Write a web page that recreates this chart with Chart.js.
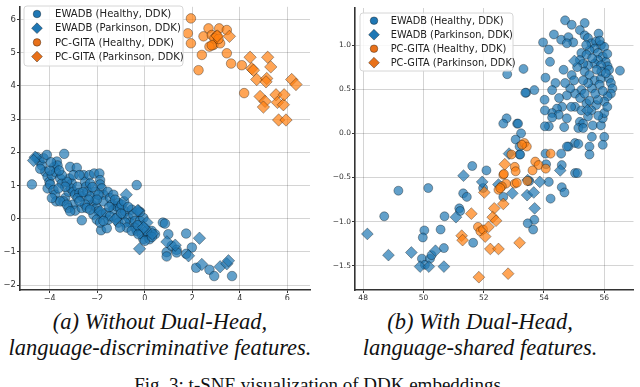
<!DOCTYPE html>
<html>
<head>
<meta charset="utf-8">
<script src="https://cdn.jsdelivr.net/npm/chart.js@4.4.1/dist/chart.umd.min.js"></script>
<style>
  html, body { margin: 0; padding: 0; background: #fff; }
  body { width: 640px; height: 387px; position: relative; overflow: hidden; }
  .plot { position: absolute; top: 0; width: 320px; height: 300px; }
  .cap {
    position: absolute; top: 309px; width: 320px; text-align: center;
    font-family: 'Liberation Serif', serif; font-style: italic;
    font-size: 22.5px; line-height: 26px; color: #111; white-space: nowrap;
  }
  .fig {
    position: absolute; top: 374px; left: 0; width: 640px; text-align: center;
    font-family: 'Liberation Serif', serif; font-size: 19px; line-height: 22px; color: #111;
  }
</style>
</head>
<body>
<div class="plot" style="left:0"><canvas id="left" width="320" height="300"></canvas></div>
<div class="plot" style="left:320px"><canvas id="right" width="320" height="300"></canvas></div>
<div class="cap" style="left:0">(a) Without Dual-Head,<br>language-discriminative features.</div>
<div class="cap" style="left:320px">(b) With Dual-Head,<br>language-shared features.</div>
<div class="fig">Fig. 3: t-SNE visualization of DDK embeddings.</div>

<script>
const seriesLabels = [
	'EWADB (Healthy, DDK)',
	'EWADB (Parkinson, DDK)',
	'PC-GITA (Healthy, DDK)',
	'PC-GITA (Parkinson, DDK)'
];

// (a) without dual-head
const leftEwadbHealthy = [
	[-4.75,1.03],[-4.54,1.85],[-4.43,1.72],[-4.33,1.60],[-4.26,1.82],[-4.12,1.92],[-4.19,1.41],[-4.09,1.26],
	[-4.01,1.11],[-4.09,0.91],[-3.98,1.03],[-3.84,0.86],[-3.77,0.72],[-3.73,0.52],[-3.91,1.31],[-3.81,1.56],
	[-3.70,1.72],[-3.67,1.60],[-3.73,1.39],[-3.56,1.21],[-3.49,1.06],[-3.39,1.95],[-3.35,0.62],[-3.42,0.52],
	[-3.21,0.81],[-3.14,1.56],[-3.17,1.21],[-3.07,1.06],[-3.11,0.91],[-3.00,0.81],[-2.93,0.72],[-2.86,1.53],
	[-2.83,0.96],[-2.75,0.77],[-2.65,0.67],[-2.83,0.62],[-3.03,0.42],[-3.21,0.32],[-2.93,0.24],[-2.65,0.32],
	[-2.65,-0.05],[-2.58,1.31],[-2.51,1.11],[-2.47,0.96],[-2.41,0.81],[-2.33,1.31],[-2.30,1.06],[-2.23,0.42],
	[-2.13,1.36],[-2.09,0.54],[-2.02,0.32],[-1.95,0.22],[-1.91,1.36],[-1.88,1.16],[-1.88,1.03],[-1.81,0.91],
	[-1.74,0.72],[-1.74,0.52],[-1.81,0.12],[-1.84,-0.35],[-1.60,-0.29],[-1.53,-0.03],[-1.56,0.81],[-1.46,0.62],
	[-1.39,0.42],[-1.32,0.27],[-1.18,0.37],[-1.11,0.47],[-1.04,0.32],[-0.93,0.12],[-0.83,0.22],[-0.69,0.02],
	[-0.62,-0.12],[-0.55,0.27],[-0.48,0.12],[-0.41,-0.07],[-0.34,1.01],[-0.41,-0.27],[-0.34,-0.37],[-0.20,-0.07],
	[-0.13,-0.47],[-0.06,-0.62],[0.15,-0.47],[0.29,-0.37],[0.43,-0.47],[0.76,-0.12],[0.85,-0.15],[0.99,-0.47],
	[0.92,-1.01],[0.92,-1.14],[1.13,-0.82],[1.34,-0.94],[1.34,-1.02],[1.74,-0.45],[1.98,-0.87],[1.74,-1.06],
	[2.16,-1.48],[2.72,-1.54],[2.92,-1.73],[3.67,-1.73],
	[-1.32,0.72],[-1.25,0.57],[-0.97,0.42],[-0.87,0.52],[-1.63,0.17],[-1.46,0.07],[-1.18,0.02],[-1.11,-0.12],
	[-0.83,-0.12],[-0.76,-0.27],[-0.55,-0.37],[-1.04,-0.27],[-0.27,-0.47],[-0.06,0.02],[-0.03,-0.27],[0.08,-0.37],
	[0.20,-0.62],[0.00,-0.67],[-2.16,0.12],[-2.02,-0.03],[-1.88,-0.12],[-1.74,-0.07],[-2.09,0.81],[-2.30,0.67],
	[-1.95,0.72],[-2.02,0.57],[-2.37,0.57],[-2.51,0.42],[-2.75,0.52],[-2.44,0.32],[-2.30,0.27],[-3.28,1.11],
	[-3.35,0.96],[-3.00,1.31],[-2.75,1.31],[-3.49,1.31],[-3.63,0.91],[-3.56,0.52],[-3.91,0.62],[-3.28,0.42],
	[-3.14,0.22],[-1.00,0.15],[-0.70,0.35],[-1.50,0.35],[-0.20,0.20],[-0.30,-0.20],[0.30,-0.55],[-2.20,0.95],
	[-2.60,0.80],[-3.60,1.45],[-4.40,1.50],[-4.00,1.45],[-3.95,1.70]
];
const leftEwadbParkinson = [
	[-4.61,1.85],[-4.68,1.75],[-0.78,0.72],[-0.26,0.24],[-0.22,-0.91],[2.30,-0.59],[1.84,-1.12],[2.40,-1.38],
	[3.17,-1.45],[3.45,-1.36],[3.52,-1.27],[1.28,-0.80],[0.93,-0.70],[0.32,-0.46],[0.09,-0.12],[-0.05,-0.27],
	[-1.24,-0.02],[-1.87,0.22],[-0.31,0.24]
];
const leftGitaHealthy = [
	[1.94,6.03],[1.81,5.58],[1.94,5.28],[2.47,5.49],[2.68,5.73],[2.82,5.53],[2.89,5.23],[2.72,5.18],
	[3.13,5.73],[3.17,5.28],[3.45,5.68],[2.40,4.93],[2.26,4.47],[3.45,4.98],[3.63,4.67],[4.08,4.62],
	[4.18,3.78],[3.03,5.51],[2.93,5.43],[3.10,5.41],[2.82,5.22]
];
const leftGitaParkinson = [
	[3.56,5.49],[3.05,5.50],[4.43,4.86],[4.50,4.52],[4.57,4.47],[4.71,4.19],[5.17,4.86],[5.30,4.57],
	[5.13,4.22],[5.10,4.12],[4.85,3.68],[5.06,3.53],[4.99,3.36],[5.52,3.73],[5.58,3.50],[5.83,3.43],
	[5.86,3.73],[6.18,4.19],[6.36,4.04],[5.63,2.97],[5.94,2.97]
];
const leftTicksX = [-4, -2, 0, 2, 4, 6];
const leftTicksY = [-2, -1, 0, 1, 2, 3, 4, 5, 6];

// (b) with dual-head
const rightEwadbHealthy = [
	[54.70,1.28],[54.92,1.23],[55.35,1.25],[55.19,1.17],[55.81,1.13],[54.33,1.12],[54.57,1.06],[54.81,1.09],
	[54.97,1.03],[54.76,1.02],[55.35,1.11],[55.46,1.08],[55.57,1.02],[55.73,1.04],[55.89,1.00],[56.00,0.98],
	[55.68,0.96],[55.51,0.94],[55.24,0.91],[55.41,0.89],[55.79,0.91],[55.95,0.87],[56.05,0.81],[56.11,0.76],
	[56.16,0.72],[56.52,0.71],[55.79,0.83],[55.68,0.79],[55.89,0.77],[55.46,0.77],[55.30,0.79],[55.19,0.83],
	[55.35,0.70],[55.51,0.66],[55.68,0.60],[55.89,0.62],[56.16,0.62],[56.22,0.57],[56.27,0.51],[56.22,0.45],
	[56.11,0.42],[56.00,0.36],[55.84,0.55],[55.59,0.51],[55.46,0.57],[55.30,0.60],[54.92,0.66],[55.24,0.49],
	[55.03,0.45],[54.87,0.51],[54.70,0.57],[54.76,0.43],[54.38,0.57],[54.27,0.49],[54.05,0.63],[54.16,0.95],
	[53.97,1.03],[54.20,0.81],[54.02,0.38],[54.60,0.30],[54.43,0.28],[54.27,0.23],[54.49,0.21],[54.27,0.18],
	[54.76,0.17],[55.03,0.30],[55.24,0.26],[55.41,0.34],[55.51,0.37],[55.73,0.32],[55.79,0.38],[55.57,0.26],
	[55.46,0.19],[55.19,0.13],[55.30,0.11],[55.14,0.06],[55.30,0.06],[55.62,0.09],[55.89,0.09],[55.95,0.17],
	[56.00,0.23],[56.00,-0.04],[55.95,-0.13],[55.59,-0.04],[55.51,-0.15],[55.51,-0.24],[55.03,-0.11],[54.81,-0.15],
	[54.16,0.08],[54.67,0.07],[53.68,0.49],[53.41,0.46],[53.32,0.73],[52.78,0.67],[52.76,0.17],[52.65,0.11],
	[53.11,0.11],[53.24,0.00],[53.06,-0.07],[53.19,-0.15],[53.19,-0.24],[54.03,0.26],
	[49.17,-0.65],[48.70,-0.94],[50.16,-0.62],[50.03,-1.10],[49.98,-1.18],[49.95,-1.42],[50.05,-1.49],[50.22,-1.42],
	[50.27,-1.38],[50.57,-1.09],[50.70,-0.94],[50.68,-1.30],[51.32,-0.68],[51.44,-0.72],[51.19,-0.85],[51.22,-0.88],
	[51.65,-1.24],[51.62,-0.37],[52.09,-0.42],[51.98,-0.62],[52.65,-0.72],[53.21,-0.24],[53.14,0.11],[53.38,0.46],
	[54.03,0.08],[54.05,-0.23],[54.07,-0.35],[54.16,-0.55],[54.22,-0.74],[54.59,-0.36],[54.59,-0.61],[54.68,-0.67],
	[55.03,-0.45],[55.11,-0.45],[53.68,-0.98],[53.46,-1.02],[53.64,-1.09],[53.51,-0.54],[54.57,-0.23],[54.76,-0.15],
	[55.14,-0.12],[55.90,0.70],[56.05,0.68],[55.75,0.72],[55.60,0.85],[56.10,0.90],[55.85,1.05],[55.40,1.00],
	[55.70,0.45],[55.95,0.48],[55.20,0.40],[55.00,0.60],[54.50,0.40],[55.10,0.75],[55.80,0.20],[56.10,0.30],
	[54.90,0.30],[55.35,0.45],[54.65,0.72]
];
const rightEwadbParkinson = [
	[48.14,-1.14],[48.84,-1.38],[49.60,-1.35],[49.89,-1.51],[50.18,-1.51],[50.40,-1.33],[50.68,-1.51],[51.08,-0.95],
	[51.33,-0.48],[51.95,-0.55],[52.49,-0.58],[52.95,-0.68],[53.44,-0.70],[53.66,-0.67],[53.69,-0.85],[53.86,-0.55],
	[53.46,-0.53],[54.54,-0.42],[52.84,-0.23],[55.01,0.82],[55.44,0.26]
];
const rightGitaHealthy = [
	[53.35,-0.11],[53.43,-0.15],[53.27,-0.13],[52.92,-0.24],[54.22,-0.23],[53.03,-0.38],[53.06,-0.43],[53.71,-0.32],
	[53.82,-0.36],[54.06,-0.40],[53.62,-0.42],[52.65,-0.47],[53.03,-0.57],[53.10,-0.56],[53.45,-0.54],[52.74,-0.57],
	[52.60,-0.60],[52.49,-0.64],[52.55,-0.62],[51.81,-1.06],[51.89,-1.11],[51.98,-1.09],[52.67,-0.46]
];
const rightGitaParkinson = [
	[52.70,-0.35],[51.59,-0.91],[52.35,-0.85],[52.30,-0.95],[52.41,-0.99],[52.65,-0.80],[52.02,-0.67],[52.16,-1.06],
	[52.05,-1.17],[52.22,-1.31],[52.49,-1.31],[53.19,-1.24],[51.84,-1.63],[52.81,-1.59],[51.27,-1.16],[51.30,-1.21]
];
const rightTicksX = [48, 50, 52, 54, 56];
const rightTicksY = [-1.5, -1.0, -0.5, 0.0, 0.5, 1.0];

const blueFill = 'rgba(31,119,180,0.7)';
const orangeFill = 'rgba(255,127,14,0.7)';
const edge = 'rgba(0,0,0,0.55)';


function toPoints(arr)
{
	return arr.map(p => ({ x: p[0], y: p[1] }));
}


function makeDatasets(groups, circleR, diamondR)
{
	const fills = [blueFill, blueFill, orangeFill, orangeFill];
	return groups.map((g, i) => ({
		label: seriesLabels[i],
		data: toPoints(g),
		pointStyle: i % 2 === 0 ? 'circle' : 'rectRot',
		pointRadius: i % 2 === 0 ? circleR : diamondR,
		backgroundColor: fills[i],
		borderColor: edge,
		borderWidth: 0.6,
		order: 4 - i,
	}));
}


// legend box drawn inside the plot, like matplotlib's upper-left legend
const boxLegend = {
	id: 'boxLegend',
	afterDraw(chart, args, opts)
	{
		const ctx = chart.ctx;
		ctx.save();
		ctx.beginPath();
		ctx.roundRect(opts.x, opts.y, opts.w, opts.h, 3);
		ctx.fillStyle = 'rgba(255,255,255,0.85)';
		ctx.fill();
		ctx.strokeStyle = '#d6d6d6';
		ctx.lineWidth = 1;
		ctx.stroke();

		const fills = ['#1f77b4', '#1f77b4', '#e8711a', '#e8711a'];
		chart.data.datasets.forEach((ds, i) => {
			const cy = opts.y + opts.first + i * opts.gap;
			const cx = opts.markX;
			ctx.beginPath();
			if (ds.pointStyle === 'circle') {
				ctx.arc(cx, cy, 3.8, 0, Math.PI * 2);
			} else {
				const r = 5.4;
				ctx.moveTo(cx, cy - r);
				ctx.lineTo(cx + r, cy);
				ctx.lineTo(cx, cy + r);
				ctx.lineTo(cx - r, cy);
				ctx.closePath();
			}
			ctx.fillStyle = fills[i];
			ctx.fill();
			ctx.strokeStyle = 'rgba(0,0,0,0.6)';
			ctx.lineWidth = 0.6;
			ctx.stroke();

			ctx.fillStyle = '#222';
			ctx.font = opts.fontSize + 'px "DejaVu Sans"';
			ctx.textBaseline = 'middle';
			ctx.fillText(ds.label, opts.textX, cy + 0.5);
		});
		ctx.restore();
	}
};


function makeScale(min, max, ticks, fmt, fitSize, horizontal, fontSize)
{
	return {
		type: 'linear',
		min: min,
		max: max,
		afterBuildTicks: scale => { scale.ticks = ticks.map(v => ({ value: v })); },
		afterFit: scale => {
			if (horizontal) scale.height = fitSize;
			else scale.width = fitSize;
		},
		grid: {
			color: 'rgba(0,0,0,0.17)',
			lineWidth: 1,
			drawTicks: true,
			tickLength: 3,
			tickColor: '#333',
		},
		border: { display: true, color: '#333', width: 1.6 },
		ticks: {
			padding: 1,
			color: '#333',
			font: { family: 'DejaVu Sans', size: fontSize },
			callback: v => fmt(v).replace('-', '\u2212'),
		},
	};
}


function makeChart(id, groups, radii, sx, sy, padding, legendOpts)
{
	return new Chart(document.getElementById(id), {
		type: 'scatter',
		data: { datasets: makeDatasets(groups, radii[0], radii[1]) },
		options: {
			responsive: false,
			animation: false,
			layout: { padding: padding },
			plugins: {
				legend: { display: false },
				tooltip: { enabled: false },
				boxLegend: legendOpts,
			},
			scales: { x: sx, y: sy },
		},
		plugins: [boxLegend],
	});
}


makeChart(
	'left',
	[leftEwadbHealthy, leftEwadbParkinson, leftGitaHealthy, leftGitaParkinson],
	[4.8, 6.2],
	makeScale(-5.25, 6.95, leftTicksX, v => String(v), 10, true, 8),
	makeScale(-2.15, 6.38, leftTicksY, v => String(v), 20, false, 8.5),
	{ left: 0, top: 2, right: 10, bottom: 0 },
	{ x: 24, y: 6, w: 159, h: 60, first: 8, gap: 14.2, markX: 37, textX: 55, fontSize: 10.1 }
);

makeChart(
	'right',
	[rightEwadbHealthy, rightEwadbParkinson, rightGitaHealthy, rightGitaParkinson],
	[4.5, 5.9],
	makeScale(47.73, 56.97, rightTicksX, v => String(v), 10, true, 7.5),
	makeScale(-1.775, 1.42, rightTicksY, v => v.toFixed(1), 35, false, 7.5),
	{ left: 0, top: 8, right: 0, bottom: 0 },
	{ x: 40, y: 13, w: 153, h: 58, first: 7.7, gap: 14, markX: 54, textX: 70.7, fontSize: 9.8 }
);
</script>
</body>
</html>
